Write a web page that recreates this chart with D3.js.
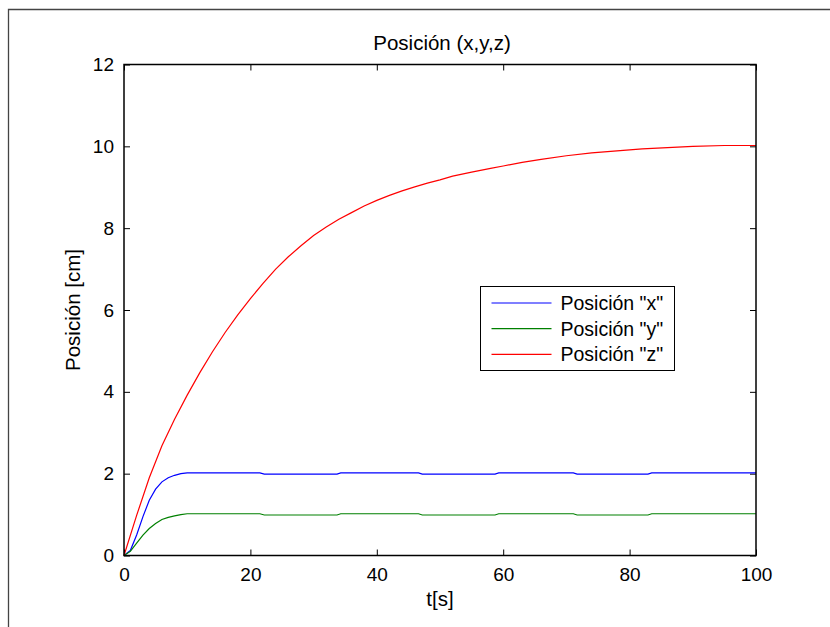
<!DOCTYPE html>
<html>
<head>
<meta charset="utf-8">
<script src="https://cdn.jsdelivr.net/npm/d3@7"></script>
<style>
  body { margin: 0; background: #fff; }
  svg text { font-family: "Liberation Sans", Arial, sans-serif; fill: #000; }
</style>
</head>
<body>
<div id="canvas"></div>
<script>
// Data
const tXY = [0, 1, 2, 3, 4, 5, 6, 7, 8, 9, 10, 21.5, 22.2, 33.7, 34.3, 46.6, 47.2, 58.7, 59.3, 71.1, 71.7, 82.9, 83.5, 100];
const posX = [0, 0.12, 0.5, 0.95, 1.35, 1.62, 1.8, 1.9, 1.96, 2.0, 2.02, 2.02, 1.99, 1.99, 2.02, 2.02, 1.99, 1.99, 2.02, 2.02, 1.99, 1.99, 2.02, 2.02];
const posY = [0, 0.1, 0.3, 0.5, 0.66, 0.78, 0.88, 0.93, 0.97, 1.0, 1.02, 1.02, 0.99, 0.99, 1.02, 1.02, 0.99, 0.99, 1.02, 1.02, 0.99, 0.99, 1.02, 1.02];
const tZ = [0, 2, 4, 6, 8, 10, 12, 14, 16, 18, 20, 22, 24, 26, 28, 30, 32, 34, 36, 38, 40, 42, 44, 46, 48, 50, 52, 55, 58, 60, 63, 66, 70, 74, 78, 82, 86, 90, 95, 100];
const posZ = [0, 0.98, 1.9, 2.68, 3.33, 3.92, 4.47, 4.98, 5.45, 5.88, 6.28, 6.65, 7.0, 7.3, 7.57, 7.82, 8.03, 8.22, 8.38, 8.54, 8.68, 8.8, 8.91, 9.01, 9.1, 9.18, 9.27, 9.37, 9.46, 9.52, 9.61, 9.68, 9.77, 9.84, 9.89, 9.94, 9.97, 10.0, 10.02, 10.02];
const xTicks = [0, 20, 40, 60, 80, 100];
const yTicks = [0, 2, 4, 6, 8, 10, 12];
const seriesNames = ['Posición "x"', 'Posición "y"', 'Posición "z"'];
const seriesColors = ['#0000ff', '#008000', '#ff0000'];

const width = 830;
const height = 627;
const margin = { left: 124, right: 74, top: 64.5, bottom: 71.5 };
const tickFont = 19;
const labelFont = 20.5;

const svg = d3.select('#canvas')
  .append('svg')
  .attr('width', width)
  .attr('height', height);

svg.append('rect')
  .attr('width', width)
  .attr('height', height)
  .attr('fill', '#fff');

// outer figure frame (only top and left edges visible)
svg.append('path')
  .attr('d', `M8.5,${height} V9.5 H${width}`)
  .attr('fill', 'none')
  .attr('stroke', '#444')
  .attr('stroke-width', 1.3);

const x = d3.scaleLinear().domain([0, 100]).range([margin.left, width - margin.right]);
const y = d3.scaleLinear().domain([0, 12]).range([height - margin.bottom, margin.top]);

// axes with inward ticks
const tick = 6;
const axisFont = g => g.selectAll('text').style('font-size', tickFont + 'px').attr('fill', '#000');

svg.append('g')
  .attr('transform', `translate(0,${y(0)})`)
  .call(d3.axisBottom(x).tickValues(xTicks).tickSizeInner(-tick).tickSizeOuter(0).tickPadding(12))
  .call(g => g.select('.domain').remove())
  .call(axisFont);

svg.append('g')
  .attr('transform', `translate(${x(0)},0)`)
  .call(d3.axisLeft(y).tickValues(yTicks).tickSizeInner(-tick).tickSizeOuter(0).tickPadding(10))
  .call(g => g.select('.domain').remove())
  .call(axisFont);

svg.append('g')
  .attr('transform', `translate(0,${y(12)})`)
  .call(d3.axisTop(x).tickValues(xTicks).tickSizeInner(-tick).tickSizeOuter(0).tickFormat(''))
  .call(g => g.select('.domain').remove());

svg.append('g')
  .attr('transform', `translate(${x(100)},0)`)
  .call(d3.axisRight(y).tickValues(yTicks).tickSizeInner(-tick).tickSizeOuter(0).tickFormat(''))
  .call(g => g.select('.domain').remove());

// series lines
const line = d3.line().x(d => x(d[0])).y(d => y(d[1]));
const series = [
  d3.zip(tXY, posX),
  d3.zip(tXY, posY),
  d3.zip(tZ, posZ)
];

svg.append('g')
  .selectAll('path')
  .data(series)
  .enter()
  .append('path')
  .attr('d', line)
  .attr('fill', 'none')
  .attr('stroke', (d, i) => seriesColors[i])
  .attr('stroke-width', 1.2);

// axes box
svg.append('rect')
  .attr('x', x(0))
  .attr('y', y(12))
  .attr('width', x(100) - x(0))
  .attr('height', y(0) - y(12))
  .attr('fill', 'none')
  .attr('stroke', '#000')
  .attr('stroke-width', 1.5);

// title and labels
svg.append('text')
  .attr('x', (x(0) + x(100)) / 2 + 2)
  .attr('y', 50)
  .attr('text-anchor', 'middle')
  .style('font-size', labelFont + 'px')
  .text('Posición (x,y,z)');

svg.append('text')
  .attr('x', (x(0) + x(100)) / 2)
  .attr('y', 606)
  .attr('text-anchor', 'middle')
  .style('font-size', labelFont + 'px')
  .text('t[s]');

svg.append('text')
  .attr('transform', `translate(80,${(y(0) + y(12)) / 2}) rotate(-90)`)
  .attr('text-anchor', 'middle')
  .style('font-size', labelFont + 'px')
  .text('Posición [cm]');

// legend
const legend = svg.append('g').attr('transform', 'translate(480.5,286.5)');

legend.append('rect')
  .attr('width', 194)
  .attr('height', 84)
  .attr('fill', '#fff')
  .attr('stroke', '#000')
  .attr('stroke-width', 1);

const rows = legend.selectAll('g.row')
  .data(seriesNames)
  .enter()
  .append('g')
  .attr('class', 'row')
  .attr('transform', (d, i) => `translate(0,${16.5 + i * 25.7})`);

rows.append('line')
  .attr('x1', 11)
  .attr('x2', 71)
  .attr('stroke', (d, i) => seriesColors[i])
  .attr('stroke-width', 1.2);

rows.append('text')
  .attr('x', 80)
  .attr('dy', '0.35em')
  .style('font-size', '19.5px')
  .text(d => d);
</script>
</body>
</html>
